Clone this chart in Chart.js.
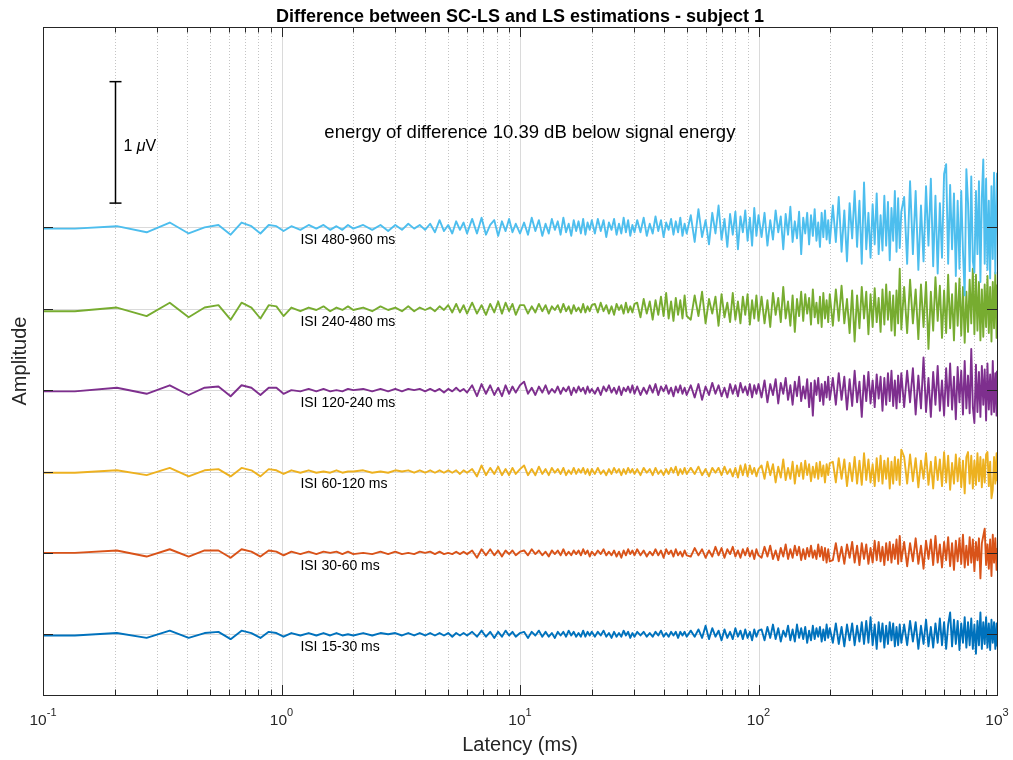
<!DOCTYPE html>
<html><head><meta charset="utf-8">
<script src="https://cdn.jsdelivr.net/npm/chart.js@4.4.0/dist/chart.umd.min.js"></script>
<style>html,body{margin:0;padding:0;background:#fff}canvas{display:block}</style>
</head><body>
<canvas id="c" width="1013" height="760"></canvas>
<script>
// ---- data (latency in ms; amplitudes in hundredths of a microvolt, relative to each trace's baseline) ----
const latency = [
 0.068,0.136,0.204,0.272,0.34,0.408,0.476,0.544,0.612,0.68,0.748,0.816,0.884,0.952,1.02,
 1.1,1.2,1.3,1.4,1.5,1.6,1.7,1.8,1.9,2.0,
 2.2,2.4,2.6,2.8,3.0,3.2,3.4,3.6,3.8,4.0,
 4.2,4.4,4.6,4.8,5.0,5.2,5.4,5.6,5.8,6.0,
 6.3,6.6,6.9,7.2,7.5,7.8,8.1,8.4,8.7,9.0,9.3,9.6,10.0,
 10.4,10.8,11.2,11.6,12,12.4,12.8,13.2,13.6,14,14.4,14.8,15.2,15.6,16,16.4,16.8,17.2,17.6,18,18.4,18.8,19.2,19.6,20,
 20.6,21.2,21.8,22.4,23,23.6,24.2,24.8,25.4,26,26.6,27.2,27.8,28.4,29,29.6,30.2,
 31,32,33,34,35,36,37,38,39,40,41,42,43,44,45,46,47,48,49,50,
 52,54,56,58,60,62,64,66,68,70,72,74,76,78,80,82,84,86,88,90,92,94,96,98,100,
 103,106,109,112,115,118,121,124,127,130,133,136,139,142,145,148,151,154,157,160,163,166,169,172,175,178,181,184,187,190,193,196,199,
 205,211,217,223,229,235,241,247,253,259,265,271,277,283,289,295,301,307,313,319,325,331,337,343,349,355,361,367,373,379,385,391,397,
 408,420,432,444,456,468,480,492,504,516,528,540,552,564,576,588,600,612,624,636,648,660,672,684,696,708,720,732,744,756,768,780,792,804,816,828,840,852,864,876,888,900,912,924,936,948,960,972,984,996,1000
];

const seriesNames = ['ISI 15-30 ms','ISI 30-60 ms','ISI 60-120 ms','ISI 120-240 ms','ISI 240-480 ms','ISI 480-960 ms'];
const seriesColors = ['#0072BD','#D95319','#EDB120','#7E2F8E','#77AC30','#4DBEEE'];
const baselineOffsets = [0, 0.67, 1.34, 2.01, 2.68, 3.35]; // µV

const isi15_30 = [
 -1,-1,1,-3,3,-3,1,2,-4,3,1,-3,2,1,-2,
 1,-1,1,-1,1,-1,1,-1,0,-1,
 1,-1,1,0,1,-1,1,-1,1,-1,
 1,-1,1,-1,1,-2,1,-1,1,-1,
 2,-2,3,-2,2,-3,2,-2,3,-1,2,-2,1,
 2,-3,2,-1,3,-2,2,-2,1,-3,2,-1,2,-2,3,-1,2,-2,1,-2,3,-2,2,-1,2,
 -2,2,-1,3,-2,1,-3,2,-2,1,-2,3,-1,2,-3,1,-2,
 2,-1,2,-2,1,-2,2,-1,3,-2,1,-2,2,-1,2,-3,2,-1,2,-2,
 3,-2,4,-3,7,-4,5,-2,3,-5,4,-3,2,-4,5,-2,3,-4,4,-3,2,-5,4,-2,3,
 4,-5,6,-3,8,-4,5,-6,3,-2,7,-5,4,-6,8,-3,5,-4,6,-7,3,-5,7,-4,5,-2,6,-6,4,-5,8,-3,5,
 -7,9,-8,6,-10,8,-5,9,-9,7,-6,10,-8,11,-7,14,-9,8,-12,10,-6,9,-11,7,-8,10,-5,9,-10,6,-9,8,-7,
 8,-9,11,-6,10,-12,7,-8,12,-10,6,-11,9,-7,13,-9,10,-12,8,18,-10,12,-8,11,-13,9,-7,14,-11,10,-9,13,-12,8,-16,11,-9,18,-12,10,-8,14,-11,9,-13,12,-7,10,-12,9,-10
];
const isi30_60 = [
 0,0,2,-3,3,-3,2,2,-4,3,1,-3,2,1,-2,
 1,-1,1,-1,1,0,1,-1,1,-1,
 0,-1,1,-1,1,-1,0,-1,1,0,
 1,-1,1,-1,0,-1,1,-1,1,-1,
 2,-4,3,-2,3,-2,2,-3,2,-1,2,-2,1,
 2,-2,3,-1,2,-2,1,-3,2,-1,2,-2,3,-2,1,-2,2,-1,2,-2,3,-1,2,-3,1,
 -2,2,-1,3,-2,1,-2,2,-3,1,-4,2,-2,3,-1,2,-2,
 3,-2,2,-3,1,-2,3,-2,2,-4,3,-1,2,-3,3,-2,1,-3,2,-2,
 -3,4,-2,3,-4,2,-3,5,-2,4,-4,3,-1,5,-3,2,-4,3,-2,4,-3,2,-5,3,-2,
 -4,5,-3,6,-5,2,-6,4,-3,7,-5,3,-4,6,-2,5,-6,3,-5,4,-3,6,-4,2,-5,7,-3,5,-6,4,-8,3,-7,
 -6,8,-7,5,-9,7,-4,9,-8,6,-10,8,-5,7,-9,4,-8,10,-6,9,-7,5,-10,8,-6,9,-8,7,-5,11,-9,14,-7,
 9,-11,8,-7,12,-9,6,-13,10,-5,11,-10,14,-8,7,-12,9,-6,13,-11,8,-14,10,-7,12,-9,15,-12,6,-10,13,-8,11,-15,9,-6,12,-21,8,14,20,-10,7,-13,11,-19,15,-8,12,-14,4
];
const isi60_120 = [
 -1,-1,1,-3,3,-4,1,2,-4,3,1,-4,2,1,-2,
 1,-1,1,-1,0,-1,1,-1,0,0,
 1,-1,0,-1,1,0,1,-1,1,-1,
 1,-1,1,-1,1,-1,1,-2,1,-1,
 2,-4,5,-3,3,-2,4,-3,2,-3,3,-2,2,
 5,-3,2,-3,4,-2,2,-3,3,-1,2,-2,3,-3,1,-2,3,-2,2,-1,3,-2,2,-3,2,
 -2,3,-2,1,-3,2,-2,3,-1,2,-3,2,-2,3,-1,2,-2,
 2,-3,3,-1,2,-3,3,-2,1,-3,2,-2,3,-1,4,-3,2,-2,3,-2,
 3,-2,4,-3,2,-4,3,-1,3,-3,4,-2,2,-4,3,-5,5,-3,6,-4,5,-2,3,-4,2,
 5,-6,8,-3,6,-9,4,-5,10,-7,3,-6,8,-10,5,-4,7,-6,9,-3,6,-8,4,-5,7,-6,8,-4,5,-9,6,-3,7,
 8,-9,11,-6,10,-12,7,-8,12,-10,9,-11,15,-7,10,-9,6,-12,11,-8,13,-10,9,-6,11,-14,8,-10,12,-7,10,-11,18,
 12,-10,14,-8,11,-13,9,-6,15,-11,8,-14,12,-7,10,-12,16,-9,13,-15,7,-10,14,-8,11,-13,9,-18,12,16,-10,13,-14,9,-11,15,-8,12,-13,10,-9,14,16,-12,8,-22,-15,12,-10,15,-8
];
const isi120_240 = [
 -1,-1,2,-3,4,-4,2,3,-5,4,2,-4,2,2,-3,
 0,-1,1,-1,1,-1,0,-1,1,0,
 1,-1,1,-1,1,-1,1,0,1,-1,
 1,-1,1,-2,1,-1,2,-1,1,-2,
 4,-5,5,-3,4,-4,2,-5,4,-3,3,-2,4,
 7,-3,2,-4,3,-2,4,-3,1,-2,3,-3,2,-1,3,-4,2,-2,3,-1,2,-3,3,-2,1,
 -3,2,-4,3,-1,4,-2,2,-3,3,-4,2,-1,3,-2,4,-3,
 3,-4,2,-3,4,-2,5,-4,3,-1,4,-3,2,-5,3,-2,4,-3,2,-4,
 4,-6,5,-8,3,-4,6,-3,4,-5,2,-6,5,-3,4,-5,6,-2,3,-4,5,-6,4,-3,5,
 -6,8,-10,5,-4,9,-11,6,-3,10,-8,4,-12,7,-5,11,-9,3,-7,9,-14,6,-21,8,-4,10,-9,5,-12,7,-6,11,-8,
 10,-12,14,-8,11,-16,9,-13,16,-10,7,-22,12,-9,15,-11,8,-14,13,-7,11,-17,10,-12,14,-9,16,-13,8,-15,12,-10,14,
 -14,16,-10,18,-20,12,-15,27,-18,10,-22,15,-12,20,-17,8,-21,18,-13,22,-16,11,-24,19,-10,16,-20,24,-15,12,-19,34,-14,-27,21,-18,15,-22,20,-12,17,-25,22,-16,13,-20,24,-18,14,-21,16
];
const isi240_480 = [
 -2,-2,1,-6,5,-7,1,3,-9,5,1,-8,3,2,-6,
 1,-2,1,-1,2,-2,1,-1,2,-1,
 1,-2,2,-1,1,-2,2,-2,1,-1,
 1,-2,2,-1,3,-3,4,-3,3,-4,
 5,-4,3,-5,4,-3,6,-4,5,-2,4,-5,3,
 3,-4,2,-3,4,-2,3,-4,2,-1,3,-3,4,-2,2,-4,3,-2,1,-3,4,-3,2,-2,3,
 4,-3,5,-2,3,-4,2,-5,4,-1,3,-4,5,-3,2,-3,4,
 5,-7,8,-4,6,-9,7,-5,10,-6,13,-8,6,-10,9,-5,7,-8,11,-6,
 -9,11,-6,14,-12,8,-4,10,-14,12,-7,5,-11,13,-9,6,-12,10,-5,12,-13,7,-8,11,-10,
 10,-12,7,-15,13,-5,9,-11,18,-8,6,-14,11,-19,8,-6,14,-10,12,-4,9,-13,16,-7,5,-12,10,-15,13,-8,7,-11,12,
 -14,16,-10,19,-12,8,-20,15,-27,11,-16,18,-8,14,-21,12,-15,17,-11,9,-19,16,-13,20,-9,14,-18,11,-22,15,-12,33,-17,
 18,-20,24,-12,16,-25,20,-15,22,-33,14,-18,26,-10,19,-24,15,-20,28,-16,12,-26,21,-14,25,-22,18,-28,14,-19,24,-12,33,-21,28,-18,22,-26,16,-23,20,-15,27,-20,18,-27,22,-16,30,-24,20
];
const isi480_960 = [
 -1,-1,1,-4,4,-5,0,2,-6,4,1,-5,2,1,-3,
 1,-2,2,-1,2,-2,1,-2,2,-1,
 2,-2,2,-3,2,-2,3,-1,2,-2,
 3,-4,6,-3,2,-5,5,-2,4,-5,
 7,-5,8,-6,2,6,-7,5,-3,7,-4,3,-5,
 4,-6,8,-3,6,-7,3,-5,7,-2,5,-6,8,-4,3,-7,6,-3,5,-5,7,-6,4,-2,6,
 -5,7,-3,6,-8,4,-2,7,-6,3,-5,8,-4,6,-7,2,-4,
 6,-4,8,-7,3,-5,9,-3,6,-8,4,-2,7,-6,5,-4,8,-7,3,-5,
 10,-12,15,-8,6,-14,12,-5,18,-10,7,-16,11,-6,13,-18,9,-4,14,-11,8,-15,16,-7,10,
 -8,12,-15,6,-10,14,-4,9,-18,11,-6,17,-12,5,-9,13,-22,8,-5,12,-14,10,-7,15,-11,4,-16,12,-8,14,-10,6,-13,
 18,-12,25,-20,14,-28,20,-9,30,-16,22,-30,37,-18,12,-25,19,-14,28,-22,10,-19,26,-15,21,-27,16,-11,30,-20,24,-17,13,
 25,-30,38,-22,30,-35,18,-28,34,-15,40,-32,26,-38,20,-25,44,52,-30,35,-18,28,-40,22,-34,30,-20,-56,48,20,-36,42,-28,-37,30,-22,38,-45,25,56,-30,40,-35,22,-42,34,-26,45,-38,28,45
];
const seriesValues = [isi15_30, isi30_60, isi60_120, isi120_240, isi240_480, isi480_960];

// axis ticks
const xMajorTicks = [0.1, 1, 10, 100, 1000];
const xTickExponents = ['-1', '0', '1', '2', '3'];
const xMinorTicks = [0.2,0.3,0.4,0.5,0.6,0.7,0.8,0.9, 2,3,4,5,6,7,8,9, 20,30,40,50,60,70,80,90, 200,300,400,500,600,700,800,900];

const titleText = 'Difference between SC-LS and LS estimations - subject 1';
const xLabel = 'Latency (ms)';
const yLabel = 'Amplitude';
const noteText = 'energy of difference 10.39 dB below signal energy';
const scaleBar = {latency: 0.2, from: 3.55, to: 4.55}; // 1 µV bar

// ---- chart ----
const FONT = '"Liberation Sans", Arial, Helvetica, sans-serif';
const datasets = [];
for (let s = seriesValues.length - 1; s >= 0; s--) {
  const vals = seriesValues[s], off = baselineOffsets[s];
  datasets.push({
    label: seriesNames[s],
    data: latency.map((t, i) => ({x: t, y: off + vals[i] / 100})),
    borderColor: seriesColors[s],
    borderWidth: 1.9,
    pointRadius: 0,
    tension: 0,
    borderJoinStyle: 'round',
    clip: 0
  });
}

function line(ctx, x1, y1, x2, y2) { ctx.beginPath(); ctx.moveTo(x1, y1); ctx.lineTo(x2, y2); ctx.stroke(); }

const decor = {
  id: 'decor',
  beforeDatasetsDraw(chart) {
    const {ctx, chartArea: a, scales: {x, y}} = chart;
    ctx.save();
    ctx.lineWidth = 1;
    ctx.setLineDash([1, 2]);
    ctx.strokeStyle = '#c4c4c4';
    for (const t of xMinorTicks) {
      const px = Math.round(x.getPixelForValue(t)) + 0.5;
      line(ctx, px, a.top, px, a.bottom);
    }
    ctx.setLineDash([]);
    ctx.strokeStyle = '#dadada';
    for (const t of xMajorTicks) {
      const px = Math.round(x.getPixelForValue(t)) + 0.5;
      line(ctx, px, a.top, px, a.bottom);
    }
    for (const o of baselineOffsets) {
      const py = Math.round(y.getPixelForValue(o)) + 0.5;
      line(ctx, a.left, py, a.right, py);
    }
    ctx.restore();
  },
  afterDatasetsDraw(chart) {
    const {ctx, chartArea: a, scales: {x, y}} = chart;
    ctx.save();
    // box
    ctx.strokeStyle = '#262626';
    ctx.lineWidth = 1;
    ctx.strokeRect(Math.round(a.left) + 0.5, Math.round(a.top) + 0.5, Math.round(a.right - a.left), Math.round(a.bottom - a.top));
    // x ticks (inward, bottom and top)
    const tickAt = (t, len) => {
      const px = Math.round(x.getPixelForValue(t)) + 0.5;
      line(ctx, px, a.bottom, px, a.bottom - len);
      line(ctx, px, a.top, px, a.top + len);
    };
    xMinorTicks.forEach(t => tickAt(t, 5.5));
    xMajorTicks.forEach(t => tickAt(t, 10));
    // y ticks at baselines
    for (const o of baselineOffsets) {
      const py = Math.round(y.getPixelForValue(o)) + 0.5;
      line(ctx, a.left, py, a.left + 10, py);
      line(ctx, a.right, py, a.right - 10, py);
    }
    // x tick labels 10^n
    ctx.fillStyle = '#262626';
    ctx.textBaseline = 'alphabetic';
    xMajorTicks.forEach((t, i) => {
      const px = x.getPixelForValue(t);
      ctx.font = '15.5px ' + FONT;
      const w1 = ctx.measureText('10').width;
      ctx.font = '11px ' + FONT;
      const w2 = ctx.measureText(xTickExponents[i]).width;
      const x0 = px - (w1 + w2) / 2;
      ctx.textAlign = 'left';
      ctx.font = '15.5px ' + FONT;
      ctx.fillText('10', x0, a.bottom + 30);
      ctx.font = '11px ' + FONT;
      ctx.fillText(xTickExponents[i], x0 + w1, a.bottom + 21);
    });
    // axis labels
    ctx.textAlign = 'center';
    ctx.textBaseline = 'middle';
    ctx.font = '20px ' + FONT;
    ctx.fillText(xLabel, (a.left + a.right) / 2, a.bottom + 50);
    ctx.save();
    ctx.translate(20, (a.top + a.bottom) / 2);
    ctx.rotate(-Math.PI / 2);
    ctx.fillText(yLabel, 0, 0);
    ctx.restore();
    // title
    ctx.fillStyle = '#000';
    ctx.font = 'bold 18px ' + FONT;
    ctx.textBaseline = 'alphabetic';
    ctx.fillText(titleText, (a.left + a.right) / 2, a.top - 5);
    // series labels
    ctx.textAlign = 'left';
    ctx.textBaseline = 'middle';
    ctx.font = '14px ' + FONT;
    seriesNames.forEach((n, i) => {
      ctx.fillText(n, x.getPixelForValue(1.2), y.getPixelForValue(baselineOffsets[i]) + 13);
    });
    // note
    ctx.textAlign = 'center';
    ctx.font = '18.5px ' + FONT;
    ctx.fillText(noteText, x.getPixelForValue(11.0), y.getPixelForValue(4.13));
    // scale bar
    const bx = Math.round(x.getPixelForValue(scaleBar.latency)) + 0.5;
    const by1 = y.getPixelForValue(scaleBar.to), by2 = y.getPixelForValue(scaleBar.from);
    ctx.strokeStyle = '#000';
    ctx.lineWidth = 1.5;
    line(ctx, bx, by1, bx, by2);
    line(ctx, bx - 6, by1, bx + 6, by1);
    line(ctx, bx - 6, by2, bx + 6, by2);
    // "1 μV"
    ctx.textAlign = 'left';
    ctx.textBaseline = 'alphabetic';
    ctx.font = '16px ' + FONT;
    const ly = (by1 + by2) / 2 + 9;
    let lx = bx + 8;
    ctx.fillText('1 ', lx, ly); lx += ctx.measureText('1 ').width;
    ctx.font = 'italic 16px ' + FONT;
    ctx.fillText('μ', lx, ly); lx += ctx.measureText('μ').width;
    ctx.font = '16px ' + FONT;
    ctx.fillText('V', lx, ly);
    ctx.restore();
  }
};

new Chart(document.getElementById('c'), {
  type: 'line',
  data: {datasets},
  options: {
    responsive: false,
    animation: false,
    devicePixelRatio: 1,
    parsing: false,
    layout: {padding: {left: 43, right: 16, top: 27, bottom: 65}},
    plugins: {legend: {display: false}, tooltip: {enabled: false}, title: {display: false}},
    scales: {
      x: {type: 'logarithmic', min: 0.1, max: 1000, display: false},
      y: {type: 'linear', min: -0.5, max: 5.0, display: false}
    }
  },
  plugins: [decor]
});
</script>
</body></html>
